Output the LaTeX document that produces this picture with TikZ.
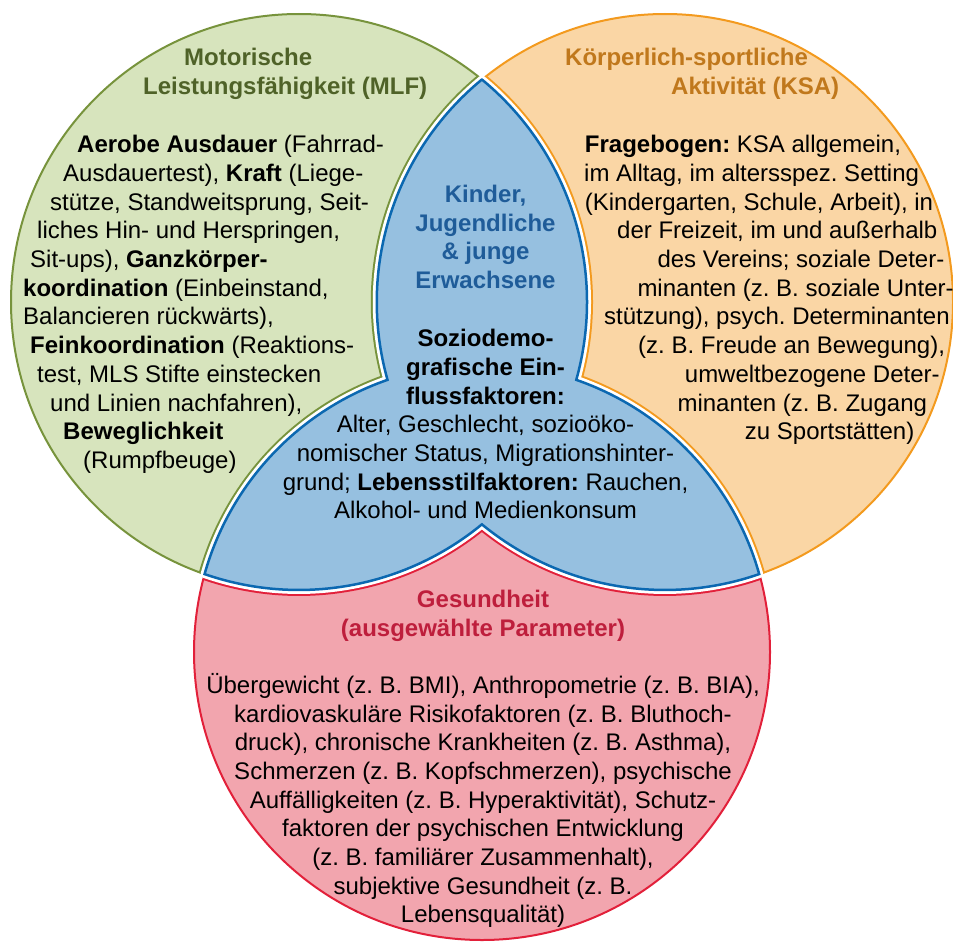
\documentclass[tikz,border=0pt]{standalone}
\usepackage{fontspec}
\setmainfont{Liberation Sans}
\usepackage{tikz}

\definecolor{mlfline}{HTML}{77933C}
\definecolor{mlffill}{HTML}{D7E4BD}
\definecolor{mlftext}{HTML}{4F6228}
\definecolor{ksaline}{HTML}{F39A1E}
\definecolor{ksafill}{HTML}{FAD6A5}
\definecolor{ksatext}{HTML}{C0781C}
\definecolor{gesline}{HTML}{E2203A}
\definecolor{gesfill}{HTML}{F2A5AE}
\definecolor{gestext}{HTML}{BE1E3C}
\definecolor{kernline}{HTML}{0B68B1}
\definecolor{kernfill}{HTML}{96C0E0}
\definecolor{kerntext}{HTML}{1F5C99}
\frenchspacing

\newcommand{\mlfcircle}{(299,302) circle[radius=288]}
\newcommand{\ksacircle}{(665,302) circle[radius=288]}
\newcommand{\gescircle}{(482,652) circle[radius=288]}
\newcommand{\kernpath}{(482,79.6) arc[start angle=-50.55, end angle=15.69, radius=288]
  arc[start angle=-70.88, end angle=-15.69, radius=288]
  arc[start angle=70.88, end angle=129.45, radius=288]
  arc[start angle=50.55, end angle=109.12, radius=288]
  arc[start angle=195.69, end angle=250.88, radius=288]
  arc[start angle=164.31, end angle=230.55, radius=288] -- cycle}

\begin{document}
\begin{tikzpicture}[x=1pt,y=-1pt,font=\fontsize{24}{28.8}\selectfont,
  lline/.style={anchor=base west,inner sep=0pt},
  cline/.style={anchor=base,inner sep=0pt}]
\useasboundingbox (0,0) rectangle (953,942);
\filldraw[fill=mlffill, draw=mlfline, line width=2pt] \mlfcircle;
\filldraw[fill=ksafill, draw=ksaline, line width=2pt] \ksacircle;
\filldraw[fill=gesfill, draw=gesline, line width=2pt] \gescircle;
\begin{scope}
\clip \mlfcircle;
\draw[mlfline, line width=12pt, line join=round] \kernpath;
\end{scope}
\begin{scope}
\clip \ksacircle;
\draw[ksaline, line width=12pt, line join=round] \kernpath;
\end{scope}
\begin{scope}
\clip \gescircle;
\draw[gesline, line width=12pt, line join=round] \kernpath;
\end{scope}
\draw[white, line width=8pt, line join=round] \kernpath;
\filldraw[fill=kernfill, draw=kernline, line width=2.5pt] \kernpath;

\node[lline, mlftext] (mlftitlea) at (184,66) {\textbf{Motorische}};
\node[lline, mlftext] (mlftitleb) at (143,95) {\textbf{Leistungsfähigkeit (MLF)}};
\node[lline] (mlfa) at (77,152.7) {\textbf{Aerobe Ausdauer} (Fahrrad-};
\node[lline] (mlfb) at (63,181.4) {Ausdauertest), \textbf{Kraft} (Liege-};
\node[lline] (mlfc) at (50,210.1) {stütze, Standweitsprung, Seit-};
\node[lline] (mlfd) at (37,238.8) {liches Hin- und Herspringen,};
\node[lline] (mlfe) at (30,267.5) {Sit-ups), \textbf{Ganzkörper-}};
\node[lline] (mlff) at (23,296.2) {\textbf{koordination} (Einbeinstand,};
\node[lline] (mlfg) at (23,324.9) {Balancieren rückwärts),};
\node[lline] (mlfh) at (30,353.6) {\textbf{Feinkoordination} (Reaktions-};
\node[lline] (mlfi) at (37,382.3) {test, MLS Stifte einstecken};
\node[lline] (mlfj) at (50,411) {und Linien nachfahren),};
\node[lline] (mlfk) at (63,439.7) {\textbf{Beweglichkeit}};
\node[lline] (mlfl) at (83,468.4) {(Rumpfbeuge)};

\node[lline, ksatext] (ksatitlea) at (565,66) {\textbf{Körperlich-sportliche}};
\node[lline, ksatext] (ksatitleb) at (671,95) {\textbf{Aktivität (KSA)}};
\node[lline] (ksaa) at (584.7,152.7) {\textbf{Fragebogen:} KSA allgemein,};
\node[lline] (ksab) at (584,181.4) {im Alltag, im altersspez. Setting};
\node[lline] (ksac) at (584.7,210.1) {(Kindergarten, Schule, Arbeit), in};
\node[lline] (ksad) at (617,238.8) {der Freizeit, im und außerhalb};
\node[lline] (ksae) at (657.3,267.5) {des Vereins; soziale Deter-};
\node[lline] (ksaf) at (637.3,296.2) {minanten (z. B. soziale Unter-};
\node[lline] (ksag) at (604,324.9) {stützung), psych. Determinanten};
\node[lline] (ksah) at (638,353.6) {(z. B. Freude an Bewegung),};
\node[lline] (ksai) at (684.7,382.3) {umweltbezogene Deter-};
\node[lline] (ksaj) at (677.3,411) {minanten (z. B. Zugang};
\node[lline] (ksak) at (744.7,439.7) {zu Sportstätten)};

\node[cline, kerntext] (kerntitlea) at (485.5,202.7) {\textbf{Kinder,}};
\node[cline, kerntext] (kerntitleb) at (485.5,231.2) {\textbf{Jugendliche}};
\node[cline, kerntext] (kerntitlec) at (485.5,259.7) {\textbf{\& junge}};
\node[cline, kerntext] (kerntitled) at (485.5,288.2) {\textbf{Erwachsene}};
\node[cline] (kerna) at (485.5,346.7) {\textbf{Soziodemo-}};
\node[cline] (kernb) at (485.5,375.4) {\textbf{grafische Ein-}};
\node[cline] (kernc) at (485.5,404.1) {\textbf{flussfaktoren:}};
\node[cline] (kernd) at (485.5,432.8) {Alter, Geschlecht, sozioöko-};
\node[cline] (kerne) at (485.5,461.5) {nomischer Status, Migrationshinter-};
\node[cline] (kernf) at (485.5,490.2) {grund; \textbf{Lebensstilfaktoren:} Rauchen,};
\node[cline] (kerng) at (485.5,518.9) {Alkohol- und Medienkonsum};

\node[cline, gestext] (gestitlea) at (483,607.3) {\textbf{Gesundheit}};
\node[cline, gestext] (gestitleb) at (483,636) {\textbf{(ausgewählte Parameter)}};
\node[cline] (gesa) at (483,693.3) {Übergewicht (z. B. BMI), Anthropometrie (z. B. BIA),};
\node[cline] (gesb) at (483,722) {kardiovaskuläre Risikofaktoren (z. B. Bluthoch-};
\node[cline] (gesc) at (483,750.7) {druck), chronische Krankheiten (z. B. Asthma),};
\node[cline] (gesd) at (483,779.4) {Schmerzen (z. B. Kopfschmerzen), psychische};
\node[cline] (gese) at (483,808.1) {Auffälligkeiten (z. B. Hyperaktivität), Schutz-};
\node[cline] (gesf) at (483,836.8) {faktoren der psychischen Entwicklung};
\node[cline] (gesg) at (483,865.5) {(z. B. familiärer Zusammenhalt),};
\node[cline] (gesh) at (483,894.2) {subjektive Gesundheit (z. B.};
\node[cline] (gesi) at (483,922.9) {Lebensqualität)};
\end{tikzpicture}
\end{document}
